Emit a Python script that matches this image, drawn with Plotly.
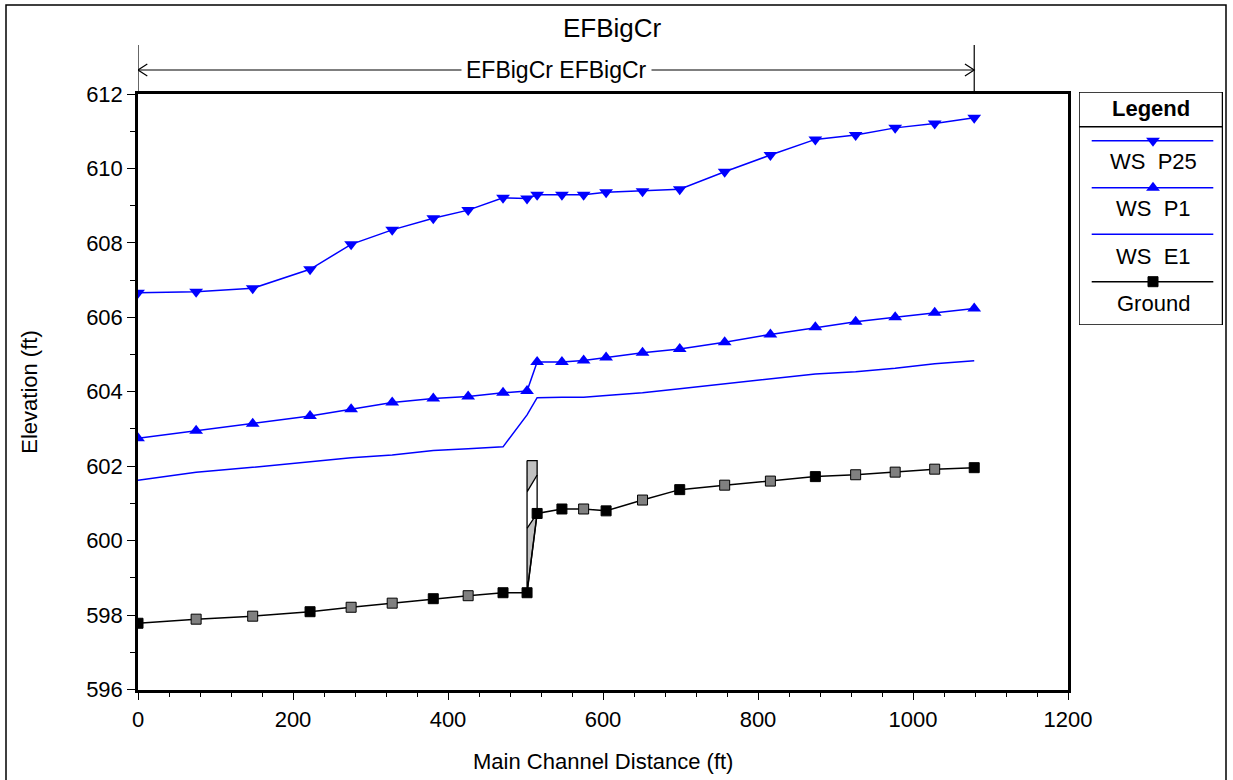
import plotly.graph_objects as go

# ---------------- data ----------------
stations = [0, 75, 148, 222, 275, 328, 381, 426, 471, 502, 515, 547, 575, 604,
            651, 699, 757, 816, 874, 926, 977, 1028, 1079]
ground = [597.78, 597.89, 597.97, 598.09, 598.21, 598.32, 598.44, 598.52, 598.60,
          598.60, 600.73, 600.85, 600.85, 600.80, 601.09, 601.37, 601.49, 601.60,
          601.72, 601.77, 601.84, 601.92, 601.96]
ground_marker_fill = ["black", "gray", "gray", "black", "gray", "gray", "black", "gray",
                      "black", "black", "black", "black", "gray", "black", "gray", "black",
                      "gray", "gray", "black", "gray", "gray", "gray", "black"]
ws_p25 = [606.66, 606.69, 606.78, 607.29, 607.96, 608.35, 608.66, 608.88, 609.21,
          609.19, 609.29, 609.29, 609.29, 609.36, 609.39, 609.44, 609.91, 610.36,
          610.78, 610.90, 611.09, 611.21, 611.36]
ws_p1 = [602.75, 602.95, 603.14, 603.35, 603.53, 603.71, 603.82, 603.87, 603.97,
         604.02, 604.80, 604.80, 604.84, 604.92, 605.05, 605.15, 605.33, 605.54,
         605.73, 605.88, 606.00, 606.12, 606.24]
ws_e1 = [601.62, 601.84, 601.97, 602.12, 602.23, 602.30, 602.42, 602.47, 602.52,
         603.38, 603.84, 603.85, 603.85, 603.90, 603.97, 604.08, 604.21, 604.36,
         604.48, 604.54, 604.63, 604.75, 604.83]

bridge_sta = [502, 515]
bridge_high_chord = [602.15, 602.15]
bridge_low_chord = [601.31, 601.76]
bridge_fill_top = [600.33, 600.73]
bridge_ground = [598.60, 600.73]

reach_start, reach_end = 0, 1079
title_text = "EFBigCr"
reach_label = "EFBigCr EFBigCr"
x_title = "Main Channel Distance (ft)"
y_title = "Elevation (ft)"
legend_names = ["WS\u00a0\u00a0P25", "WS\u00a0\u00a0P1", "WS\u00a0\u00a0E1", "Ground"]

x_ticks = [0, 200, 400, 600, 800, 1000, 1200]
y_ticks = [596, 598, 600, 602, 604, 606, 608, 610, 612]

# ---------------- styling ----------------
W, H = 1233, 780
FONT = "Liberation Sans, Arial, sans-serif"
BLUE = "#0000ff"
GRAYF = "#c0c0c0"
PL, PR, PT, PB = 138, 1068, 94, 689.5   # plot area in pixels


def px(x):
    return x / W


def py(y):
    return 1 - y / H


fig = go.Figure()

# bridge deck
s0, s1 = bridge_sta
fig.add_trace(go.Scatter(
    x=[s0, s1, s1, s0, s0],
    y=[bridge_high_chord[0], bridge_high_chord[1], bridge_low_chord[1],
       bridge_low_chord[0], bridge_high_chord[0]],
    fill="toself", fillcolor=GRAYF, mode="lines",
    line=dict(color="black", width=1.3), hoverinfo="skip", showlegend=False))
fig.add_trace(go.Scatter(
    x=[s0, s0, s1, s0],
    y=[bridge_fill_top[0], bridge_ground[0], bridge_fill_top[1], bridge_fill_top[0]],
    fill="toself", fillcolor=GRAYF, mode="lines",
    line=dict(color="black", width=1.3), hoverinfo="skip", showlegend=False))
fig.add_trace(go.Scatter(
    x=[s0, s0, None, s1, s1],
    y=[bridge_low_chord[0], bridge_fill_top[0], None, bridge_low_chord[1], bridge_fill_top[1]],
    mode="lines", line=dict(color="black", width=1.3), hoverinfo="skip", showlegend=False))

# water surfaces
fig.add_trace(go.Scatter(x=stations, y=ws_e1, mode="lines",
                         line=dict(color=BLUE, width=1.5), showlegend=False))
fig.add_trace(go.Scatter(x=stations, y=ws_p1, mode="lines+markers",
                         line=dict(color=BLUE, width=1.5),
                         marker=dict(symbol="triangle-up", size=12, color=BLUE),
                         showlegend=False))
fig.add_trace(go.Scatter(x=stations, y=ws_p25, mode="lines+markers",
                         line=dict(color=BLUE, width=1.5),
                         marker=dict(symbol="triangle-down", size=12, color=BLUE),
                         showlegend=False))
# ground
fig.add_trace(go.Scatter(x=stations, y=ground, mode="lines+markers",
                         line=dict(color="black", width=1.5),
                         marker=dict(symbol="square", size=10, color=ground_marker_fill,
                                     line=dict(color="black", width=1)),
                         showlegend=False))

# ---------------- custom legend (axes x2/y2 in pixel-like units) ----------------
leg_line_y = [140.7, 187.7, 234.3, 281.7]
leg_text_y = [161.7, 208.3, 256.7, 303.3]
leg_colors = [BLUE, BLUE, BLUE, "black"]
leg_symbols = ["triangle-down", "triangle-up", None, "square"]
LX0, LX1, LXM = 1091.7, 1213.3, 1153
for i in range(4):
    fig.add_trace(go.Scatter(x=[LX0, LX1], y=[leg_line_y[i]] * 2, mode="lines",
                             line=dict(color=leg_colors[i], width=1.5),
                             xaxis="x2", yaxis="y2", showlegend=False, hoverinfo="skip"))
    if leg_symbols[i]:
        fig.add_trace(go.Scatter(x=[LXM], y=[leg_line_y[i]], mode="markers",
                                 marker=dict(symbol=leg_symbols[i], size=12 if i < 2 else 10,
                                             color=leg_colors[i],
                                             line=dict(color="black", width=1) if i == 3 else dict(width=0)),
                                 xaxis="x2", yaxis="y2", showlegend=False, hoverinfo="skip"))

annotations = []
for i in range(4):
    annotations.append(dict(x=LXM, y=leg_text_y[i], xref="x2", yref="y2", text=legend_names[i],
                            showarrow=False, font=dict(family=FONT, size=22, color="black"),
                            xanchor="center", yanchor="middle"))
annotations.append(dict(x=1151, y=108.3, xref="x2", yref="y2", text="<b>Legend</b>",
                        showarrow=False, font=dict(family=FONT, size=22, color="black"),
                        xanchor="center", yanchor="middle"))

# title & axis titles
annotations.append(dict(x=px(612), y=py(28), xref="paper", yref="paper", text=title_text,
                        showarrow=False, font=dict(family=FONT, size=26, color="black"),
                        xanchor="center", yanchor="middle"))
annotations.append(dict(x=px((PL + PR) / 2), y=py(761), xref="paper", yref="paper", text=x_title,
                        showarrow=False, font=dict(family=FONT, size=22, color="black"),
                        xanchor="center", yanchor="middle"))
annotations.append(dict(x=px(30), y=py((PT + PB) / 2), xref="paper", yref="paper", text=y_title,
                        showarrow=False, textangle=-90, font=dict(family=FONT, size=22, color="black"),
                        xanchor="center", yanchor="middle"))
# reach label
annotations.append(dict(x=(reach_start + reach_end) / 2, y=py(70), xref="x", yref="paper",
                        text=reach_label, showarrow=False, bgcolor="white", borderpad=4,
                        font=dict(family=FONT, size=23, color="black"),
                        xanchor="center", yanchor="middle"))

shapes = []
# reach marker lines
for xs in (reach_start, reach_end):
    shapes.append(dict(type="line", xref="x", yref="paper", x0=xs, x1=xs, y0=py(45), y1=py(PT),
                       line=dict(color="black", width=1.2)))
shapes.append(dict(type="line", xref="x", yref="paper", x0=reach_start, x1=reach_end,
                   y0=py(70), y1=py(70), line=dict(color="black", width=1.2)))
ah_dx, ah_dy = 12, 6
shapes.append(dict(type="path", xref="x", yref="paper",
                   path=f"M {reach_start + ah_dx},{py(70 - ah_dy)} L {reach_start},{py(70)} L {reach_start + ah_dx},{py(70 + ah_dy)}",
                   line=dict(color="black", width=1.2)))
shapes.append(dict(type="path", xref="x", yref="paper",
                   path=f"M {reach_end - ah_dx},{py(70 - ah_dy)} L {reach_end},{py(70)} L {reach_end - ah_dx},{py(70 + ah_dy)}",
                   line=dict(color="black", width=1.2)))
# legend box and header separator
shapes.append(dict(type="rect", xref="x2", yref="y2", x0=1079, x1=1222.5, y0=92, y1=325,
                   line=dict(color="black", width=1.5)))
shapes.append(dict(type="line", xref="x2", yref="y2", x0=1079, x1=1225, y0=126.7, y1=126.7,
                   line=dict(color="black", width=1.5)))
# outer frame
shapes.append(dict(type="rect", xref="paper", yref="paper", x0=px(6), x1=px(1226), y0=py(800), y1=py(5),
                   line=dict(color="black", width=1.5)))

axis_common = dict(showgrid=False, zeroline=False, showline=True, linecolor="black", linewidth=2.5,
                   mirror=True, ticks="outside", tickcolor="black", tickwidth=1.3, automargin=False,
                   tickfont=dict(family=FONT, size=22, color="black"))

fig.update_layout(
    width=W, height=H,
    margin=dict(l=0, r=0, t=0, b=0, pad=0, autoexpand=False),
    paper_bgcolor="white", plot_bgcolor="white",
    showlegend=False,
    xaxis=dict(domain=[px(PL), px(PR)], range=[0, 1200], tickvals=x_ticks, ticklen=8,
               minor=dict(dtick=40, ticklen=5, ticks="outside", tickcolor="black", tickwidth=1.3),
               **axis_common),
    yaxis=dict(domain=[py(PB), py(PT)], range=[596, 612], tickvals=y_ticks, ticklen=8,
               minor=dict(dtick=1, ticklen=5, ticks="outside", tickcolor="black", tickwidth=1.3),
               **axis_common),
    xaxis2=dict(domain=[px(1079), px(1223)], range=[1079, 1223], visible=False, anchor="y2"),
    yaxis2=dict(domain=[py(325), py(92)], range=[325, 92], visible=False, anchor="x2"),
    annotations=annotations,
    shapes=shapes,
)

fig.write_html("out.html", config={"displayModeBar": False},
               post_script="document.body.style.margin='0';document.body.style.padding='0';"
                           "document.body.style.overflow='hidden';")
